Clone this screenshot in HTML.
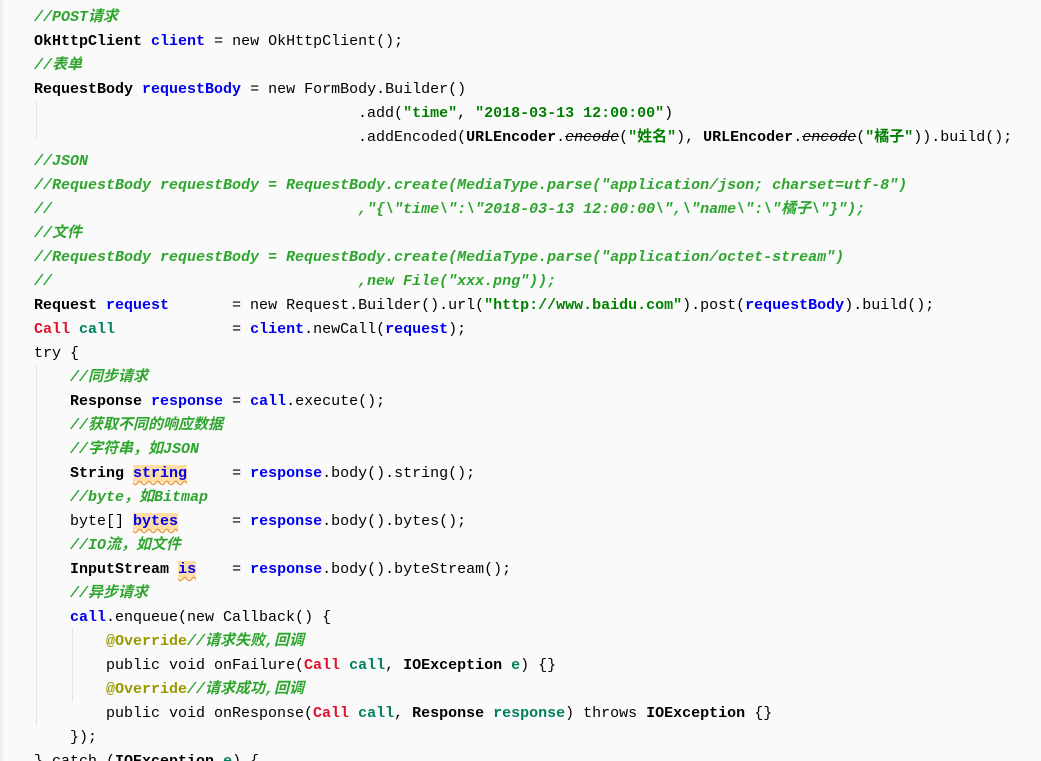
<!DOCTYPE html>
<html><head><meta charset="utf-8"><style>
html,body{margin:0;padding:0;width:1041px;height:761px;overflow:hidden;background:#fafafa}
.wrap{position:relative;width:1041px;height:761px;background:#fafafa}
.lb{position:absolute;left:0;top:0;width:3px;height:761px;background:#eeeeee}
pre{position:absolute;left:34px;top:6px;margin:0;font-family:"Liberation Mono","Noto Sans CJK SC",monospace;font-size:15px;line-height:24px;color:#000;white-space:pre}
.c{color:#2ea52e;font-style:italic;font-weight:bold}
.t{font-weight:bold;color:#000}
.v{font-weight:bold;color:#0000ee}
.s{font-weight:bold;color:#008000}
.r{font-weight:bold;color:#e0102a}
.g{font-weight:bold;color:#008060}
.a{font-weight:bold;color:#999900}
.st{font-style:italic;text-decoration:line-through}
.h{background:#ffdda8;text-decoration:underline wavy #e8a040;text-underline-offset:3px}
.guide{position:absolute;width:1px;background:#e4e4e4}
</style></head><body><div class="wrap"><div class="lb"></div>
<div class="guide" style="left:36px;top:100px;height:40px"></div>
<div class="guide" style="left:36px;top:364px;height:362px"></div>
<div class="guide" style="left:72px;top:628px;height:74px"></div>
<pre><span class="c">//POST请求</span>
<span class="t">OkHttpClient</span> <span class="v">client</span> = new OkHttpClient();
<span class="c">//表单</span>
<span class="t">RequestBody</span> <span class="v">requestBody</span> = new FormBody.Builder()
                                    .add(<span class="s">"time"</span>, <span class="s">"2018-03-13 12:00:00"</span>)
                                    .addEncoded(<span class="t">URLEncoder</span>.<span class="st">encode</span>(<span class="s">"姓名"</span>), <span class="t">URLEncoder</span>.<span class="st">encode</span>(<span class="s">"橘子"</span>)).build();
<span class="c">//JSON</span>
<span class="c">//RequestBody requestBody = RequestBody.create(MediaType.parse("application/json; charset=utf-8")</span>
<span class="c">//                                  ,"{\"time\":\"2018-03-13 12:00:00\",\"name\":\"橘子\"}");</span>
<span class="c">//文件</span>
<span class="c">//RequestBody requestBody = RequestBody.create(MediaType.parse("application/octet-stream")</span>
<span class="c">//                                  ,new File("xxx.png"));</span>
<span class="t">Request</span> <span class="v">request</span>       = new Request.Builder().url(<span class="s">"http://www.baidu.com"</span>).post(<span class="v">requestBody</span>).build();
<span class="r">Call</span> <span class="g">call</span>             = <span class="v">client</span>.newCall(<span class="v">request</span>);
try {
    <span class="c">//同步请求</span>
    <span class="t">Response</span> <span class="v">response</span> = <span class="v">call</span>.execute();
    <span class="c">//获取不同的响应数据</span>
    <span class="c">//字符串，如JSON</span>
    <span class="t">String</span> <span class="v h">string</span>     = <span class="v">response</span>.body().string();
    <span class="c">//byte，如Bitmap</span>
    byte[] <span class="v h">bytes</span>      = <span class="v">response</span>.body().bytes();
    <span class="c">//IO流，如文件</span>
    <span class="t">InputStream</span> <span class="v h">is</span>    = <span class="v">response</span>.body().byteStream();
    <span class="c">//异步请求</span>
    <span class="v">call</span>.enqueue(new Callback() {
        <span class="a">@Override</span><span class="c">//请求失败,回调</span>
        public void onFailure(<span class="r">Call</span> <span class="g">call</span>, <span class="t">IOException</span> <span class="g">e</span>) {}
        <span class="a">@Override</span><span class="c">//请求成功,回调</span>
        public void onResponse(<span class="r">Call</span> <span class="g">call</span>, <span class="t">Response</span> <span class="g">response</span>) throws <span class="t">IOException</span> {}
    });
} catch (<span class="t">IOException</span> <span class="g">e</span>) {</pre>
</div></body></html>
